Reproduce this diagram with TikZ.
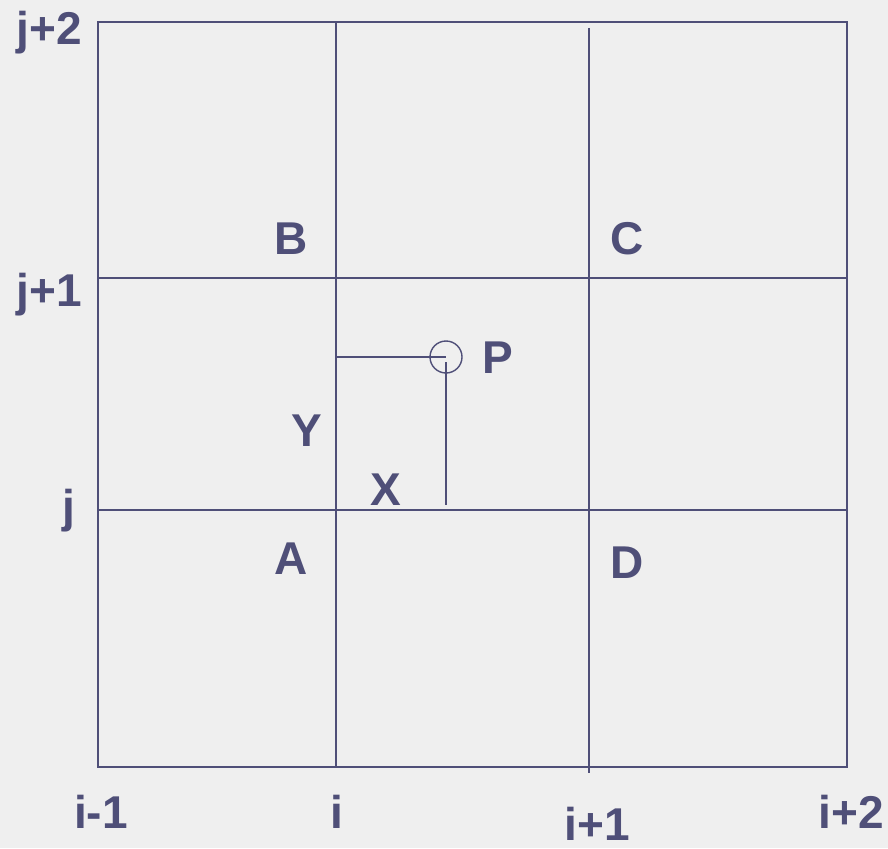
\documentclass[tikz,border=0pt]{standalone}
\usepackage{fontspec}
\setmainfont{Liberation Sans}
\definecolor{ink}{HTML}{4F4F78}
\definecolor{bg}{HTML}{EFEFEF}
\tikzset{
  lab/.style={text=ink, font=\fontsize{46}{50}\selectfont\bfseries, anchor=base, inner sep=0pt},
  gline/.style={draw=ink, line width=1.6pt},
}
\begin{document}
\begin{tikzpicture}[x=1pt,y=-1pt]
\fill[bg] (0,0) rectangle (888,848);
\useasboundingbox (0,0) rectangle (888,848);
% grid corners
\coordinate (TL) at (98,22);
\coordinate (BR) at (847,767);
\draw[gline] (TL) rectangle (BR);
\coordinate (v1t) at (336,22); \coordinate (v1b) at (336,767);
\coordinate (v2t) at (589,28); \coordinate (v2b) at (589,773);
\coordinate (h1l) at (98,278); \coordinate (h1r) at (847,278);
\coordinate (h2l) at (98,510); \coordinate (h2r) at (847,510);
\draw[gline] (v1t) -- (v1b);
\draw[gline] (v2t) -- (v2b);
\draw[gline] (h1l) -- (h1r);
\draw[gline] (h2l) -- (h2r);
% point P
\node[draw=ink, line width=1.4pt, circle, minimum size=32pt, inner sep=0pt] (pc) at (446,357) {};
\coordinate (yl) at (336,357);
\coordinate (xb) at (446,505);
\draw[draw=ink, line width=1.4pt] (yl) -- (pc.center);
\draw[draw=ink, line width=1.4pt] (pc.center |- 0,362) -- (xb);
% labels
\node[lab] (lj2) at (49,45) {j+2};
\node[lab] (lj1) at (49,306) {j+1};
\node[lab] (lj) at (69,522) {j};
\node[lab] (lB) at (291,254) {B};
\node[lab] (lC) at (627,254) {C};
\node[lab] (lP) at (498,373) {P};
\node[lab] (lY) at (307,446) {Y};
\node[lab] (lX) at (386,505) {X};
\node[lab] (lA) at (291,574) {A};
\node[lab] (lD) at (627,578) {D};
\node[lab] (li1) at (101,828) {i-1};
\node[lab] (li) at (337,828) {i};
\node[lab] (lip1) at (597,840) {i+1};
\node[lab] (lip2) at (851,828) {i+2};
\end{tikzpicture}
\end{document}
